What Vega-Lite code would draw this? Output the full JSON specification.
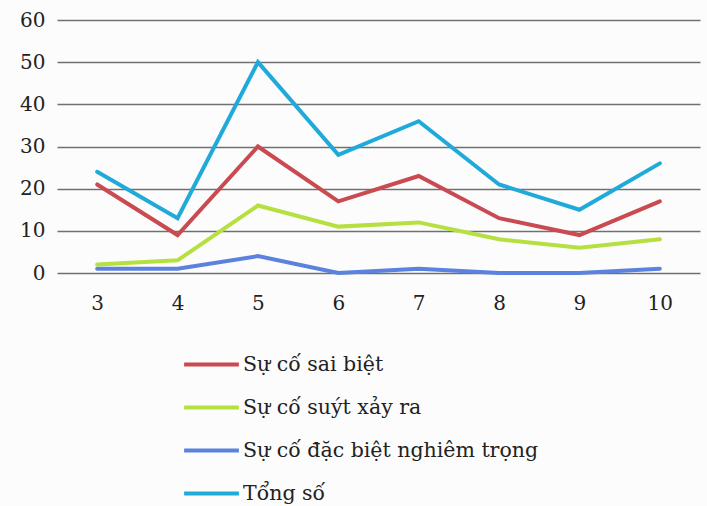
{
  "$schema": "https://vega.github.io/schema/vega-lite/v6.json",
  "autosize": "none",
  "width": 643,
  "height": 253,
  "padding": {"left": 57, "top": 20, "right": 7, "bottom": 233},
  "background": "#fcfcfc",
  "config": {
    "view": {"stroke": null},
    "font": "DejaVu Serif"
  },
  "data": {
    "values": [
      {"thang": "3", "loai": "Sự cố sai biệt", "so": 21},
      {"thang": "4", "loai": "Sự cố sai biệt", "so": 9},
      {"thang": "5", "loai": "Sự cố sai biệt", "so": 30},
      {"thang": "6", "loai": "Sự cố sai biệt", "so": 17},
      {"thang": "7", "loai": "Sự cố sai biệt", "so": 23},
      {"thang": "8", "loai": "Sự cố sai biệt", "so": 13},
      {"thang": "9", "loai": "Sự cố sai biệt", "so": 9},
      {"thang": "10", "loai": "Sự cố sai biệt", "so": 17},
      {"thang": "3", "loai": "Sự cố suýt xảy ra", "so": 2},
      {"thang": "4", "loai": "Sự cố suýt xảy ra", "so": 3},
      {"thang": "5", "loai": "Sự cố suýt xảy ra", "so": 16},
      {"thang": "6", "loai": "Sự cố suýt xảy ra", "so": 11},
      {"thang": "7", "loai": "Sự cố suýt xảy ra", "so": 12},
      {"thang": "8", "loai": "Sự cố suýt xảy ra", "so": 8},
      {"thang": "9", "loai": "Sự cố suýt xảy ra", "so": 6},
      {"thang": "10", "loai": "Sự cố suýt xảy ra", "so": 8},
      {"thang": "3", "loai": "Sự cố đặc biệt nghiêm trọng", "so": 1},
      {"thang": "4", "loai": "Sự cố đặc biệt nghiêm trọng", "so": 1},
      {"thang": "5", "loai": "Sự cố đặc biệt nghiêm trọng", "so": 4},
      {"thang": "6", "loai": "Sự cố đặc biệt nghiêm trọng", "so": 0},
      {"thang": "7", "loai": "Sự cố đặc biệt nghiêm trọng", "so": 1},
      {"thang": "8", "loai": "Sự cố đặc biệt nghiêm trọng", "so": 0},
      {"thang": "9", "loai": "Sự cố đặc biệt nghiêm trọng", "so": 0},
      {"thang": "10", "loai": "Sự cố đặc biệt nghiêm trọng", "so": 1},
      {"thang": "3", "loai": "Tổng số", "so": 24},
      {"thang": "4", "loai": "Tổng số", "so": 13},
      {"thang": "5", "loai": "Tổng số", "so": 50},
      {"thang": "6", "loai": "Tổng số", "so": 28},
      {"thang": "7", "loai": "Tổng số", "so": 36},
      {"thang": "8", "loai": "Tổng số", "so": 21},
      {"thang": "9", "loai": "Tổng số", "so": 15},
      {"thang": "10", "loai": "Tổng số", "so": 26}
    ]
  },
  "mark": {"type": "line", "strokeWidth": 4, "strokeCap": "round", "strokeJoin": "miter"},
  "encoding": {
    "x": {
      "field": "thang",
      "type": "ordinal",
      "sort": ["3", "4", "5", "6", "7", "8", "9", "10"],
      "scale": {"type": "point", "padding": 0.5},
      "axis": {
        "title": null,
        "labelAngle": 0,
        "domain": false,
        "ticks": false,
        "grid": false,
        "labelFont": "DejaVu Serif",
        "labelFontSize": 20,
        "labelColor": "#222222",
        "labelPadding": 20
      }
    },
    "y": {
      "field": "so",
      "type": "quantitative",
      "scale": {"domain": [0, 60], "nice": false},
      "axis": {
        "title": null,
        "values": [0, 10, 20, 30, 40, 50, 60],
        "domain": false,
        "ticks": false,
        "grid": true,
        "gridColor": "#707070",
        "gridWidth": 1.5,
        "labelFont": "DejaVu Serif",
        "labelFontSize": 20,
        "labelColor": "#222222",
        "labelPadding": 12
      }
    },
    "color": {
      "field": "loai",
      "type": "nominal",
      "scale": {
        "domain": ["Sự cố sai biệt", "Sự cố suýt xảy ra", "Sự cố đặc biệt nghiêm trọng", "Tổng số"],
        "range": ["#c94a50", "#b6e040", "#5a82de", "#1faad9"]
      },
      "legend": {
        "title": null,
        "orient": "none",
        "legendX": 125,
        "legendY": 315,
        "direction": "vertical",
        "symbolType": "stroke",
        "symbolSize": 3000,
        "symbolStrokeWidth": 4,
        "labelFont": "DejaVu Serif",
        "labelFontSize": 20.5,
        "labelColor": "#222222",
        "labelOffset": 2,
        "rowPadding": 3,
        "labelLimit": 400
      }
    }
  }
}
